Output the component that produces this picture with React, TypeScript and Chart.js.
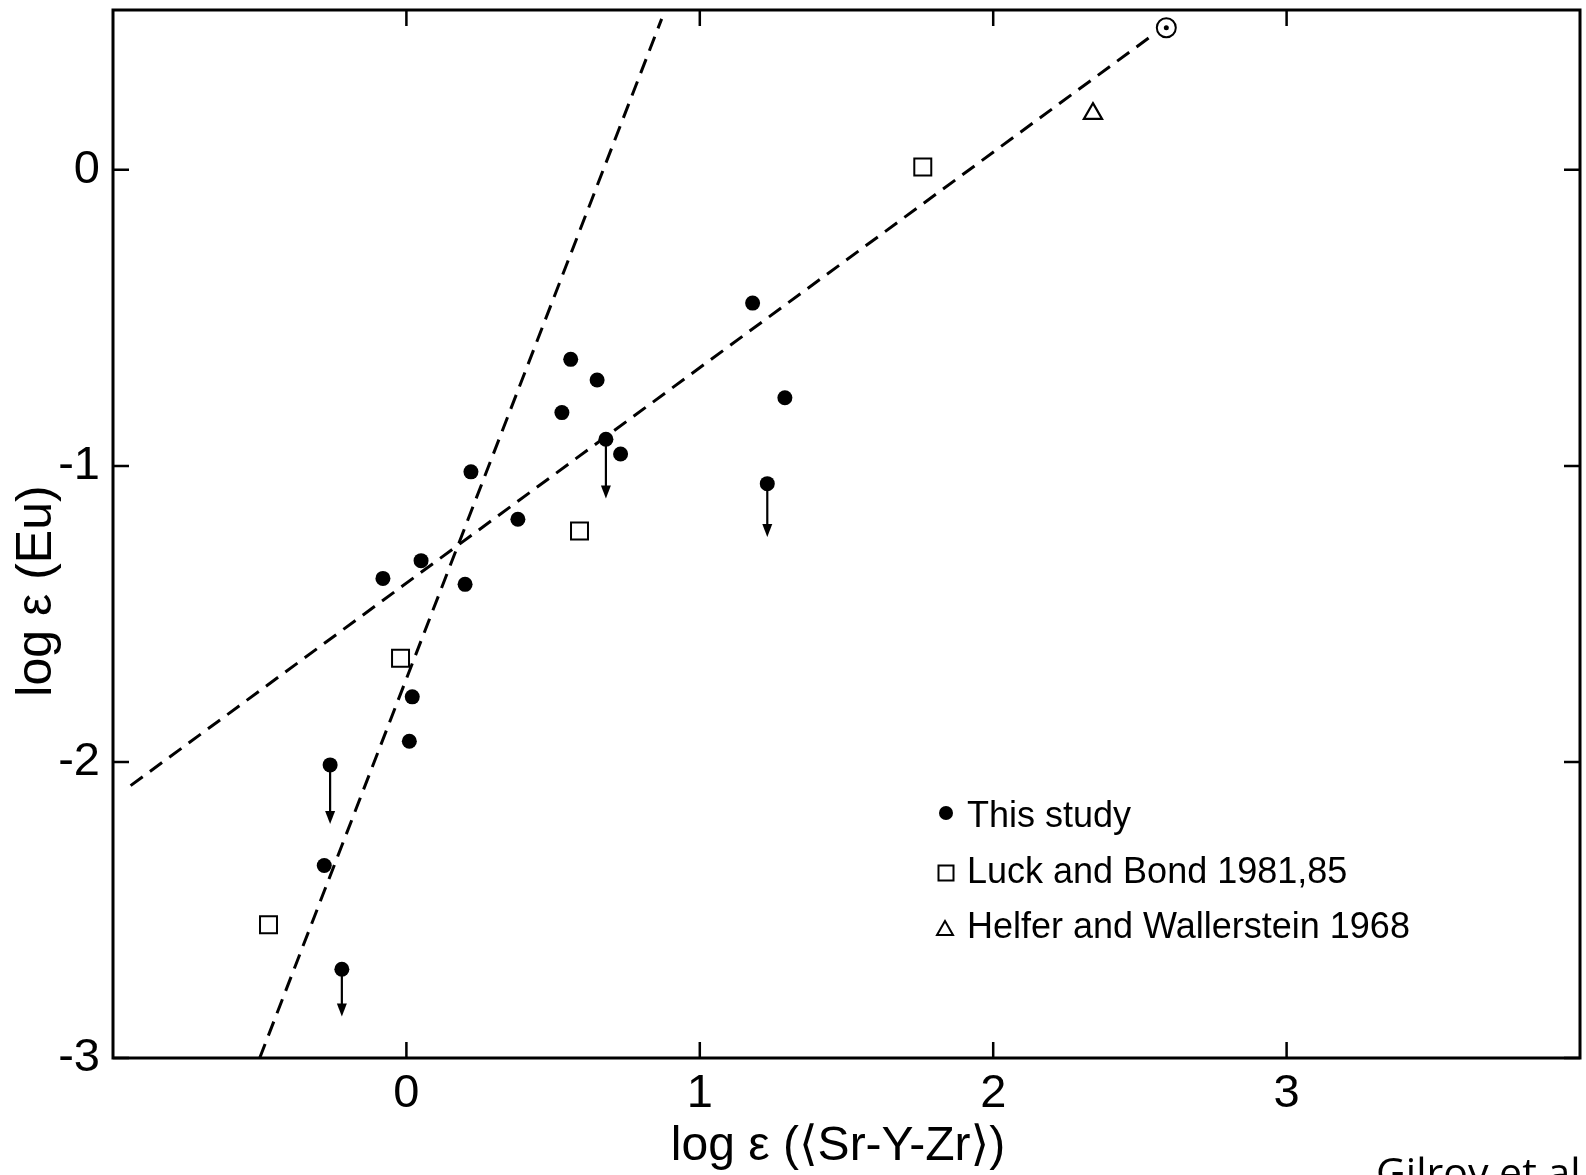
import React, { useEffect, useRef } from "react";
import { Chart, registerables } from "chart.js";

Chart.register(...registerables);

// ---------- data ----------
// "This study" detections
const studyX = [-0.08, 0.05, 0.22, 0.20, 0.38, 0.53, 0.56, 0.65, 0.73, 1.18, 1.29, 0.02, 0.01, -0.28];
const studyY = [-1.38, -1.32, -1.02, -1.40, -1.18, -0.82, -0.64, -0.71, -0.96, -0.45, -0.77, -1.78, -1.93, -2.35];
// "This study" upper limits (points with downward arrows)
const limitX = [0.68, 1.23, -0.26, -0.22];
const limitY = [-0.91, -1.06, -2.01, -2.70];
const limitTipY = [-1.11, -1.24, -2.21, -2.86];
// Luck and Bond 1981,85
const luckX = [-0.47, -0.02, 0.59, 1.76];
const luckY = [-2.55, -1.65, -1.22, 0.01];
// Helfer and Wallerstein 1968
const helferX = [2.34];
const helferY = [0.19];
// Sun
const sunX = [2.59];
const sunY = [0.48];
// dashed relations
const shallowX = [-0.94, 2.55];
const shallowY = [-2.08, 0.46];
const steepX = [-0.50, 0.87];
const steepY = [-3.0, 0.51];

const xTicks = [0, 1, 2, 3];
const xTickLabels = ["0", "1", "2", "3"];
const yTicks = [-3, -2, -1, 0];
const yTickLabels = ["-3", "-2", "-1", "0"];
const xRange = [-1, 4];
const yRange = [-3, 0.54];

const legendLabels = ["This study", "Luck and Bond 1981,85", "Helfer and Wallerstein 1968"];
const xTitle = "log \u03b5 (\u27e8Sr-Y-Zr\u27e9)";
const yTitle = "log \u03b5 (Eu)";
const credit = "Gilroy et al";

const FONT = '"Liberation Sans", Arial, "DejaVu Sans", sans-serif';

const pts = (xs: number[], ys: number[]) => xs.map((x, i) => ({ x, y: ys[i] }));

const decorPlugin = {
  id: "decor",
  afterDatasetsDraw(chart: any) {
    const { ctx, chartArea: a, scales } = chart;
    const x = scales.x;
    const y = scales.y;
    ctx.save();
    ctx.strokeStyle = "#000";
    ctx.fillStyle = "#000";

    // upper-limit arrows
    ctx.lineWidth = 2.2;
    limitX.forEach((v, i) => {
      const px = x.getPixelForValue(v);
      const p0 = y.getPixelForValue(limitY[i]);
      const p1 = y.getPixelForValue(limitTipY[i]);
      ctx.beginPath();
      ctx.moveTo(px, p0);
      ctx.lineTo(px, p1 - 8);
      ctx.stroke();
      ctx.beginPath();
      ctx.moveTo(px, p1);
      ctx.lineTo(px - 5, p1 - 13);
      ctx.lineTo(px + 5, p1 - 13);
      ctx.closePath();
      ctx.fill();
    });

    // frame
    ctx.lineWidth = 3;
    ctx.strokeRect(a.left, a.top, a.right - a.left, a.bottom - a.top);

    // inward ticks on all four sides
    ctx.lineWidth = 2.5;
    const tl = 16;
    xTicks.forEach((v) => {
      const px = x.getPixelForValue(v);
      ctx.beginPath();
      ctx.moveTo(px, a.bottom);
      ctx.lineTo(px, a.bottom - tl);
      ctx.moveTo(px, a.top);
      ctx.lineTo(px, a.top + tl);
      ctx.stroke();
    });
    yTicks.forEach((v) => {
      const py = y.getPixelForValue(v);
      ctx.beginPath();
      ctx.moveTo(a.left, py);
      ctx.lineTo(a.left + tl, py);
      ctx.moveTo(a.right, py);
      ctx.lineTo(a.right - tl, py);
      ctx.stroke();
    });

    // legend
    const lx = 946;
    const rows = [813, 873, 929];
    const bases = [827, 883, 938];
    ctx.beginPath();
    ctx.arc(lx, rows[0], 7, 0, Math.PI * 2);
    ctx.fill();
    ctx.lineWidth = 2;
    ctx.strokeRect(lx - 7.5, rows[1] - 7.5, 15, 15);
    ctx.beginPath();
    ctx.moveTo(lx - 1, rows[2] - 8);
    ctx.lineTo(lx - 9, rows[2] + 6);
    ctx.lineTo(lx + 7, rows[2] + 6);
    ctx.closePath();
    ctx.stroke();
    ctx.font = `36px ${FONT}`;
    ctx.textAlign = "left";
    ctx.textBaseline = "alphabetic";
    legendLabels.forEach((t, i) => ctx.fillText(t, 967, bases[i]));

    // axis titles
    ctx.font = `48px ${FONT}`;
    ctx.textAlign = "center";
    ctx.fillText(xTitle, 838, 1160);
    ctx.save();
    ctx.font = `50px ${FONT}`;
    ctx.translate(51, 591);
    ctx.rotate(-Math.PI / 2);
    ctx.fillText(yTitle, 0, 0);
    ctx.restore();

    // credit
    ctx.font = `41px "Open Sans", "Liberation Sans", sans-serif`;
    ctx.textAlign = "left";
    ctx.fillText(credit, 1376, 1187);

    ctx.restore();
  },
};

export default function App() {
  const ref = useRef<HTMLCanvasElement | null>(null);

  useEffect(() => {
    if (!ref.current) return;
    const tickFont = { family: FONT, size: 47 };
    const chart = new Chart(ref.current, {
      type: "scatter",
      data: {
        datasets: [
          {
            label: "shallow",
            data: pts(shallowX, shallowY),
            showLine: true,
            borderColor: "#000",
            borderWidth: 3,
            borderDash: [15, 9],
            pointRadius: 0,
            order: 5,
          },
          {
            label: "steep",
            data: pts(steepX, steepY),
            showLine: true,
            borderColor: "#000",
            borderWidth: 3,
            borderDash: [15, 9],
            pointRadius: 0,
            order: 5,
          },
          {
            label: legendLabels[0],
            data: [...pts(studyX, studyY), ...pts(limitX, limitY)],
            pointStyle: "circle",
            pointRadius: 7.5,
            backgroundColor: "#000",
            borderColor: "#000",
            borderWidth: 0,
            order: 1,
          },
          {
            label: legendLabels[1],
            data: pts(luckX, luckY),
            pointStyle: "rect",
            pointRadius: 12,
            backgroundColor: "rgba(255,255,255,1)",
            borderColor: "#000",
            borderWidth: 2,
            order: 1,
          },
          {
            label: legendLabels[2],
            data: pts(helferX, helferY),
            pointStyle: "triangle",
            pointRadius: 10.5,
            backgroundColor: "rgba(255,255,255,1)",
            borderColor: "#000",
            borderWidth: 2.2,
            order: 1,
          },
          {
            label: "Sun",
            data: pts(sunX, sunY),
            pointStyle: "circle",
            pointRadius: 9.5,
            backgroundColor: "rgba(255,255,255,1)",
            borderColor: "#000",
            borderWidth: 2,
            order: 2,
          },
          {
            label: "Sun centre",
            data: pts(sunX, sunY),
            pointStyle: "circle",
            pointRadius: 2.5,
            backgroundColor: "#000",
            borderWidth: 0,
            order: 1,
          },
        ],
      },
      options: {
        responsive: false,
        animation: false,
        devicePixelRatio: 1,
        events: [],
        layout: { autoPadding: false, padding: { top: 10, right: 6, left: 0, bottom: 0 } },
        plugins: { legend: { display: false }, tooltip: { enabled: false } },
        scales: {
          x: {
            type: "linear",
            min: xRange[0],
            max: xRange[1],
            afterFit: (s: any) => {
              s.height = 117;
              s.paddingLeft = 0;
              s.paddingRight = 0;
            },
            afterBuildTicks: (s: any) => {
              s.ticks = xTicks.map((v) => ({ value: v }));
            },
            grid: { display: false, drawTicks: false },
            border: { display: false },
            ticks: {
              font: tickFont,
              color: "#000",
              padding: 8,
              maxRotation: 0,
              autoSkip: false,
              callback: (_v: any, i: number) => xTickLabels[i],
            },
          },
          y: {
            type: "linear",
            min: yRange[0],
            max: yRange[1],
            afterFit: (s: any) => {
              s.width = 113;
              s.paddingTop = 0;
              s.paddingBottom = 0;
            },
            afterBuildTicks: (s: any) => {
              s.ticks = yTicks.map((v) => ({ value: v }));
            },
            grid: { display: false, drawTicks: false },
            border: { display: false },
            ticks: {
              font: tickFont,
              color: "#000",
              padding: 13,
              autoSkip: false,
              callback: (_v: any, i: number) => yTickLabels[i],
            },
          },
        },
      },
      plugins: [decorPlugin],
    } as any);
    return () => chart.destroy();
  }, []);

  return (
    <div
      style={{
        position: "fixed",
        left: 0,
        top: 0,
        width: 1586,
        height: 1175,
        background: "#fff",
        overflow: "hidden",
      }}
    >
      <canvas ref={ref} width={1586} height={1175} style={{ display: "block" }} />
    </div>
  );
}
